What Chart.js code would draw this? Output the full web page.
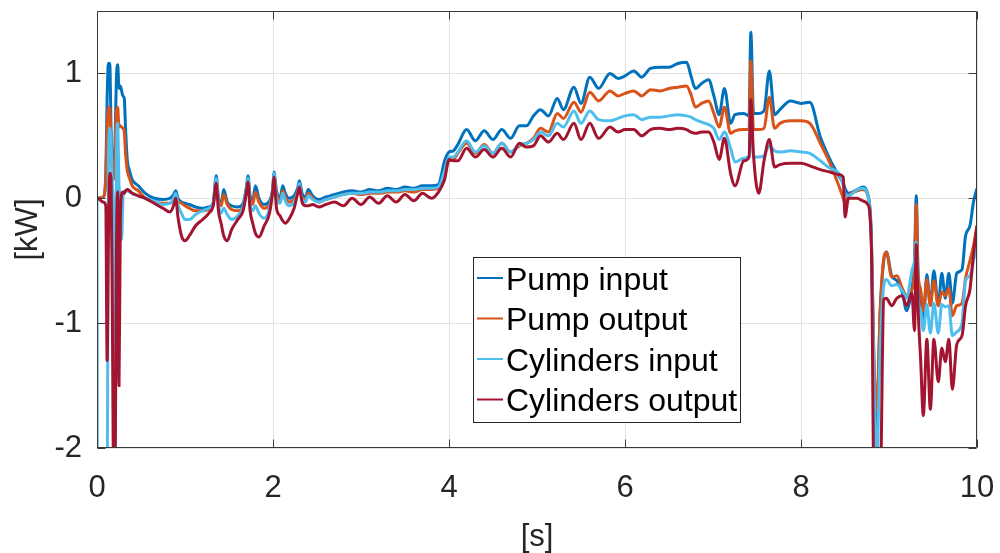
<!DOCTYPE html>
<html>
<head>
<meta charset="utf-8">
<script src="https://cdn.jsdelivr.net/npm/chart.js@4.4.1/dist/chart.umd.min.js"></script>
<style>
  html, body { margin: 0; padding: 0; background: #ffffff; }
  #wrap { width: 1000px; height: 553px; }
</style>
</head>
<body>
<div id="wrap"><canvas id="c" width="1000" height="553"></canvas></div>
<script>
// ---- data ----
const timeS = [
  0, 0.005, 0.07, 0.1, 0.115, 0.13, 0.145, 0.16, 0.175, 0.19, 0.205, 0.22, 0.235, 0.25, 0.265, 0.28, 0.295, 0.31, 0.325, 0.345, 0.37,
  0.4, 0.47, 0.55, 0.65, 0.75, 0.83, 0.87, 0.895, 0.92, 0.96, 1.0, 1.05, 1.12, 1.2, 1.27, 1.32, 1.355, 1.38, 1.41, 1.44, 1.48, 1.53, 1.6, 1.66, 1.7, 1.715, 1.74, 1.77, 1.8, 1.84, 1.9, 1.96, 2.0, 2.01, 2.04, 2.08, 2.11, 2.14, 2.18, 2.24, 2.28, 2.3, 2.33, 2.37, 2.4, 2.45, 2.52, 2.6, 2.7,
  2.8, 2.9, 3.0, 3.1, 3.2, 3.3, 3.4, 3.5, 3.6, 3.7, 3.8, 3.88, 3.95,
  4.0, 4.05, 4.1, 4.2, 4.3, 4.4, 4.5, 4.6, 4.7, 4.8, 4.88, 4.96, 5.04, 5.13, 5.23, 5.3, 5.42, 5.5, 5.6, 5.7, 5.83, 5.92, 6.0, 6.1, 6.19, 6.29, 6.4, 6.5, 6.6, 6.7,
  6.75, 6.8, 6.87, 6.95, 7.01, 7.07, 7.13, 7.2, 7.25, 7.35, 7.41, 7.43, 7.46, 7.52, 7.58, 7.64, 7.7, 7.76, 7.88, 8.0, 8.1, 8.22, 8.33, 8.43, 8.48, 8.5, 8.54, 8.64, 8.7, 8.76,
  8.8, 8.83, 8.86, 8.9, 8.94, 8.97, 9.03, 9.09, 9.15, 9.2, 9.26, 9.29, 9.31, 9.33, 9.36, 9.39, 9.43, 9.47, 9.51, 9.56, 9.6, 9.64, 9.68, 9.72, 9.77, 9.83, 9.87, 9.92, 9.96, 10
];

const pumpInput = [
  0, 0, 0.01, 0.2, 0.8, 1.08, 1.08, 0.55, 0.25, 0.2, 0.45, 0.95, 1.07, 0.88, 0.9, 0.86, 0.82, 0.8, 0.55, 0.3, 0.22,
  0.15, 0.1, 0.04, 0.0, -0.01, 0.0, 0.03, 0.06, 0.0, -0.03, -0.04, -0.05, -0.07, -0.08, -0.07, -0.04, 0.18, 0.0, -0.04, 0.07, -0.03, -0.06, -0.07, -0.04, 0.1, 0.18, 0.02, -0.02, 0.1, 0.0, -0.05, -0.02, 0.1, 0.21, 0.06, 0.0, 0.1, 0.04, 0.0, 0.02, 0.08, 0.14, 0.04, 0.01, 0.07, 0.02, -0.01, 0.01, 0.03,
  0.05, 0.06, 0.05, 0.07, 0.06, 0.08, 0.07, 0.09, 0.08, 0.1, 0.1, 0.11, 0.3,
  0.37, 0.38, 0.43, 0.55, 0.46, 0.54, 0.47, 0.55, 0.48, 0.58, 0.58, 0.66, 0.71, 0.66, 0.8, 0.71, 0.89, 0.76, 0.97, 0.88, 1.0, 0.96, 0.98, 1.02, 0.97, 1.04, 1.05, 1.05, 1.08, 1.09,
  0.98, 0.88, 0.92, 0.95, 0.82, 0.67, 0.88, 0.6, 0.67, 0.68, 0.66, 1.33, 0.68, 0.68, 0.7, 1.02, 0.67, 0.71, 0.78, 0.76, 0.77, 0.49, 0.31, 0.18, 0.12, 0.08, 0.04, 0.07, 0.09, 0.03,
  -0.3, -1.4, -1.82, -0.9, -0.5, -0.43, -0.62, -0.66, -0.75, -0.9, -0.72, -0.5, 0.02, -0.6, -0.85, -1.0, -0.61, -0.85, -0.58, -0.86, -0.6, -0.8, -0.6, -0.84, -0.6, -0.57, -0.3, -0.22, -0.03, 0.08
];

const pumpOutput = [
  0, 0, 0.01, 0.15, 0.55, 0.73, 0.72, 0.4, 0.2, 0.15, 0.35, 0.7, 0.73, 0.57, 0.58, 0.57, 0.56, 0.53, 0.35, 0.22, 0.16,
  0.1, 0.06, 0.0, -0.03, -0.04, -0.04, -0.02, 0.02, -0.02, -0.04, -0.06, -0.08, -0.1, -0.1, -0.09, -0.06, 0.13, -0.02, -0.06, 0.03, -0.05, -0.09, -0.1, -0.07, 0.06, 0.14, -0.01, -0.05, 0.05, -0.03, -0.08, -0.05, 0.08, 0.17, 0.03, -0.03, 0.06, 0.01, -0.03, -0.01, 0.05, 0.1, 0.0, -0.02, 0.04, 0.0, -0.03, -0.01, 0.01,
  0.03, 0.04, 0.03, 0.04, 0.04, 0.05, 0.05, 0.06, 0.05, 0.07, 0.07, 0.08, 0.2,
  0.3, 0.31, 0.36, 0.44, 0.36, 0.43, 0.36, 0.44, 0.37, 0.42, 0.44, 0.48, 0.56, 0.53, 0.68, 0.64, 0.77, 0.69, 0.85, 0.78, 0.86, 0.82, 0.84, 0.86, 0.82, 0.87, 0.86, 0.88, 0.89, 0.9,
  0.83, 0.73, 0.76, 0.78, 0.68, 0.57, 0.73, 0.52, 0.54, 0.55, 0.55, 1.1, 0.55, 0.55, 0.56, 0.81, 0.56, 0.6, 0.62, 0.62, 0.6, 0.44, 0.28, 0.1, 0.0, -0.04, 0.02, 0.06, 0.07, 0.02,
  -0.35, -1.3, -1.7, -0.9, -0.48, -0.43, -0.63, -0.62, -0.72, -0.78, -0.73, -0.6, -0.05, -0.6, -0.73, -0.9, -0.65, -0.86, -0.66, -0.86, -0.75, -0.78, -0.72, -0.94, -0.86, -0.84, -0.64, -0.5, -0.38, -0.22
];

const cylindersInput = [
  0, -2.6, -2.6, -2.6, -2.6, 0.3, 0.56, 0.45, 0.1, -0.25, -2.6, 0.3, 0.6, 0.1, 0.0, -0.33, 0.0, 0.05, 0.06, 0.06, 0.05,
  0.04, 0.02, 0.0, -0.02, -0.05, -0.04, 0.0, 0.04, -0.05, -0.12, -0.17, -0.17, -0.13, -0.1, -0.08, -0.04, 0.16, -0.05, -0.12, -0.08, -0.13, -0.17, -0.14, -0.07, 0.08, 0.16, -0.05, -0.1, -0.06, -0.12, -0.16, -0.08, 0.1, 0.2, 0.0, -0.04, 0.04, -0.02, -0.06, -0.03, 0.05, 0.12, -0.01, -0.03, 0.02, -0.01, -0.03, -0.01, 0.01,
  0.03, 0.04, 0.04, 0.05, 0.05, 0.06, 0.06, 0.07, 0.07, 0.08, 0.08, 0.09, 0.22,
  0.33, 0.33, 0.37, 0.46, 0.37, 0.42, 0.36, 0.44, 0.37, 0.43, 0.44, 0.47, 0.53, 0.5, 0.6, 0.57, 0.7, 0.6, 0.7, 0.63, 0.62, 0.64, 0.66, 0.67, 0.63, 0.65, 0.65, 0.66, 0.67, 0.66,
  0.65, 0.63, 0.61, 0.59, 0.56, 0.47, 0.53, 0.4, 0.29, 0.32, 0.34, 0.75, 0.33, 0.33, 0.34, 0.42, 0.38, 0.37, 0.38, 0.37, 0.36, 0.3, 0.24, 0.2, 0.1, 0.04, 0.02, 0.07, 0.08, 0.02,
  -0.35, -1.5, -2.1, -1.2, -0.7, -0.65, -0.7, -0.69, -0.74, -0.8, -0.58, -0.5, -0.35, -0.8, -0.9, -1.06, -0.85, -1.08, -0.84, -1.08, -0.85, -0.87, -0.86, -1.1, -1.07, -1.0, -0.66, -0.62, -0.5, -0.37
];

const cylindersOutput = [
  0, 0, -0.03, -0.06, -1.3, -0.3, 0.2, 0.15, -1.0, -2.3, -2.3, -0.5, 0.05, -1.5, -0.2, 0.03, 0.05, 0.04, 0.06, 0.07, 0.06,
  0.04, 0.02, 0.0, -0.04, -0.08, -0.11, -0.06, 0.0, -0.15, -0.3, -0.34, -0.3, -0.22, -0.17, -0.12, -0.06, 0.12, -0.1, -0.2, -0.3, -0.34, -0.25, -0.17, -0.1, 0.06, 0.13, -0.1, -0.2, -0.28, -0.31, -0.22, -0.12, 0.08, 0.17, -0.08, -0.14, -0.18, -0.2, -0.17, -0.08, 0.04, 0.09, -0.03, -0.06, -0.06, -0.05, -0.07, -0.05, -0.03,
  -0.06, 0.0, -0.05, 0.01, -0.04, 0.02, -0.03, 0.03, -0.02, 0.04, 0.0, 0.05, 0.15,
  0.31, 0.3, 0.3, 0.4, 0.33, 0.39, 0.33, 0.4, 0.33, 0.44, 0.41, 0.42, 0.5, 0.45, 0.52, 0.47, 0.6, 0.47, 0.6, 0.48, 0.57, 0.53, 0.55, 0.55, 0.5, 0.55, 0.56, 0.55, 0.56, 0.55,
  0.53, 0.52, 0.53, 0.53, 0.45, 0.31, 0.48, 0.2, 0.1, 0.3, 0.33, 0.79, 0.35, 0.04, 0.3, 0.47, 0.25, 0.27, 0.28, 0.28, 0.26, 0.23, 0.21, 0.19, 0.17, -0.15, 0.0, 0.0, -0.02, -0.05,
  -0.4, -2.3, -2.3, -2.3, -0.81, -0.8, -0.86, -0.8, -0.78, -0.86, -0.76, -1.06, -0.37, -0.87, -1.3, -1.74, -1.13, -1.69, -1.13, -1.47, -1.2, -1.31, -1.13, -1.53, -1.17, -1.1, -0.86, -0.73, -0.45, -0.22
];

const seriesLabels = ['Pump input', 'Pump output', 'Cylinders input', 'Cylinders output'];
const seriesColors = ['#0072BD', '#D95319', '#4DBEEE', '#A2142F'];
const xTickValues = [0, 2, 4, 6, 8, 10];
const yTickValues = [-2, -1, 0, 1];
const xTitle = '[s]';
const yTitle = '[kW]';

// ---- chart ----
const FONT = "'Liberation Sans', Arial, Helvetica, sans-serif";
const TEXT = '#262626';
const seriesValues = [pumpInput, pumpOutput, cylindersInput, cylindersOutput];

const datasets = seriesValues.map((vals, k) => ({
  label: seriesLabels[k],
  data: timeS.map((t, i) => ({ x: t, y: vals[i] })),
  borderColor: seriesColors[k],
  backgroundColor: seriesColors[k],
  borderWidth: 3,
  pointRadius: 0,
  cubicInterpolationMode: 'monotone',
  fill: false,
  order: 4 - k,
  clip: 0
}));

const framePlugin = {
  id: 'matlabFrame',
  afterDatasetsDraw(chart) {
    const { ctx, chartArea: a, scales } = chart;
    const xs = scales.x, ys = scales.y;
    const L = 8;
    ctx.save();
    ctx.strokeStyle = '#3a3a3a';
    ctx.lineWidth = 1;
    const l = Math.round(a.left) + 0.5, r = Math.round(a.right) - 0.5;
    const t = Math.round(a.top) + 0.5, b = Math.round(a.bottom) - 0.5;
    ctx.beginPath();
    ctx.rect(l, t, r - l, b - t);
    xs.ticks.forEach(tk => {
      const px = Math.round(xs.getPixelForValue(tk.value)) + 0.5;
      ctx.moveTo(px, b); ctx.lineTo(px, b - L);
      ctx.moveTo(px, t); ctx.lineTo(px, t + L);
    });
    ys.ticks.forEach(tk => {
      const py = Math.round(ys.getPixelForValue(tk.value)) + 0.5;
      ctx.moveTo(l, py); ctx.lineTo(l + L, py);
      ctx.moveTo(r, py); ctx.lineTo(r - L, py);
    });
    ctx.stroke();
    ctx.restore();
  }
};

const boxLegendPlugin = {
  id: 'boxLegend',
  afterDraw(chart, args, opts) {
    const { ctx } = chart;
    const x0 = opts.left, y0 = opts.top, w = opts.width, h = opts.height;
    ctx.save();
    ctx.fillStyle = '#ffffff';
    ctx.fillRect(x0, y0, w, h);
    ctx.strokeStyle = '#262626';
    ctx.lineWidth = 1;
    ctx.strokeRect(x0 + 0.5, y0 + 0.5, w, h);
    ctx.font = opts.fontSize + 'px ' + FONT;
    ctx.textBaseline = 'middle';
    ctx.textAlign = 'left';
    chart.data.datasets.forEach((ds, i) => {
      const cy = y0 + opts.firstRow + i * opts.rowGap;
      ctx.strokeStyle = ds.borderColor;
      ctx.lineWidth = 2;
      ctx.beginPath();
      ctx.moveTo(x0 + 4, cy - 3);
      ctx.lineTo(x0 + 30, cy - 3);
      ctx.stroke();
      ctx.fillStyle = '#000000';
      ctx.fillText(ds.label, x0 + 33, cy);
    });
    ctx.restore();
  }
};

new Chart(document.getElementById('c'), {
  type: 'line',
  data: { datasets },
  plugins: [framePlugin, boxLegendPlugin],
  options: {
    responsive: false,
    animation: false,
    events: [],
    layout: { padding: { left: 0, top: 11, right: 23, bottom: 0 } },
    plugins: {
      legend: { display: false },
      tooltip: { enabled: false },
      boxLegend: { left: 473, top: 257, width: 267, height: 165, firstRow: 24, rowGap: 40.5, fontSize: 32 }
    },
    scales: {
      x: {
        type: 'linear',
        min: 0,
        max: 10,
        afterBuildTicks: s => { s.ticks = xTickValues.map(v => ({ value: v })); },
        afterFit: s => { s.height = 105; s.paddingLeft = 0; s.paddingRight = 0; },
        grid: { color: '#e3e3e3', lineWidth: 1, drawTicks: false },
        border: { display: false },
        ticks: { padding: 22, color: TEXT, font: { family: FONT, size: 31 }, maxRotation: 0, autoSkip: false },
        title: { display: true, text: xTitle, color: TEXT, font: { family: FONT, size: 31, lineHeight: 1 }, padding: { top: 0, bottom: 0 } }
      },
      y: {
        type: 'linear',
        min: -2,
        max: 1.5,
        afterBuildTicks: s => { s.ticks = yTickValues.map(v => ({ value: v })); },
        afterFit: s => { s.width = 97; s.paddingTop = 0; s.paddingBottom = 0; },
        grid: { color: '#e3e3e3', lineWidth: 1, drawTicks: false },
        border: { display: false },
        ticks: { padding: 15, color: TEXT, font: { family: FONT, size: 31 }, autoSkip: false },
        title: { display: true, text: yTitle, color: TEXT, font: { family: FONT, size: 31, lineHeight: 1 }, padding: { top: 13, bottom: 0 } }
      }
    }
  }
});
</script>
</body>
</html>
